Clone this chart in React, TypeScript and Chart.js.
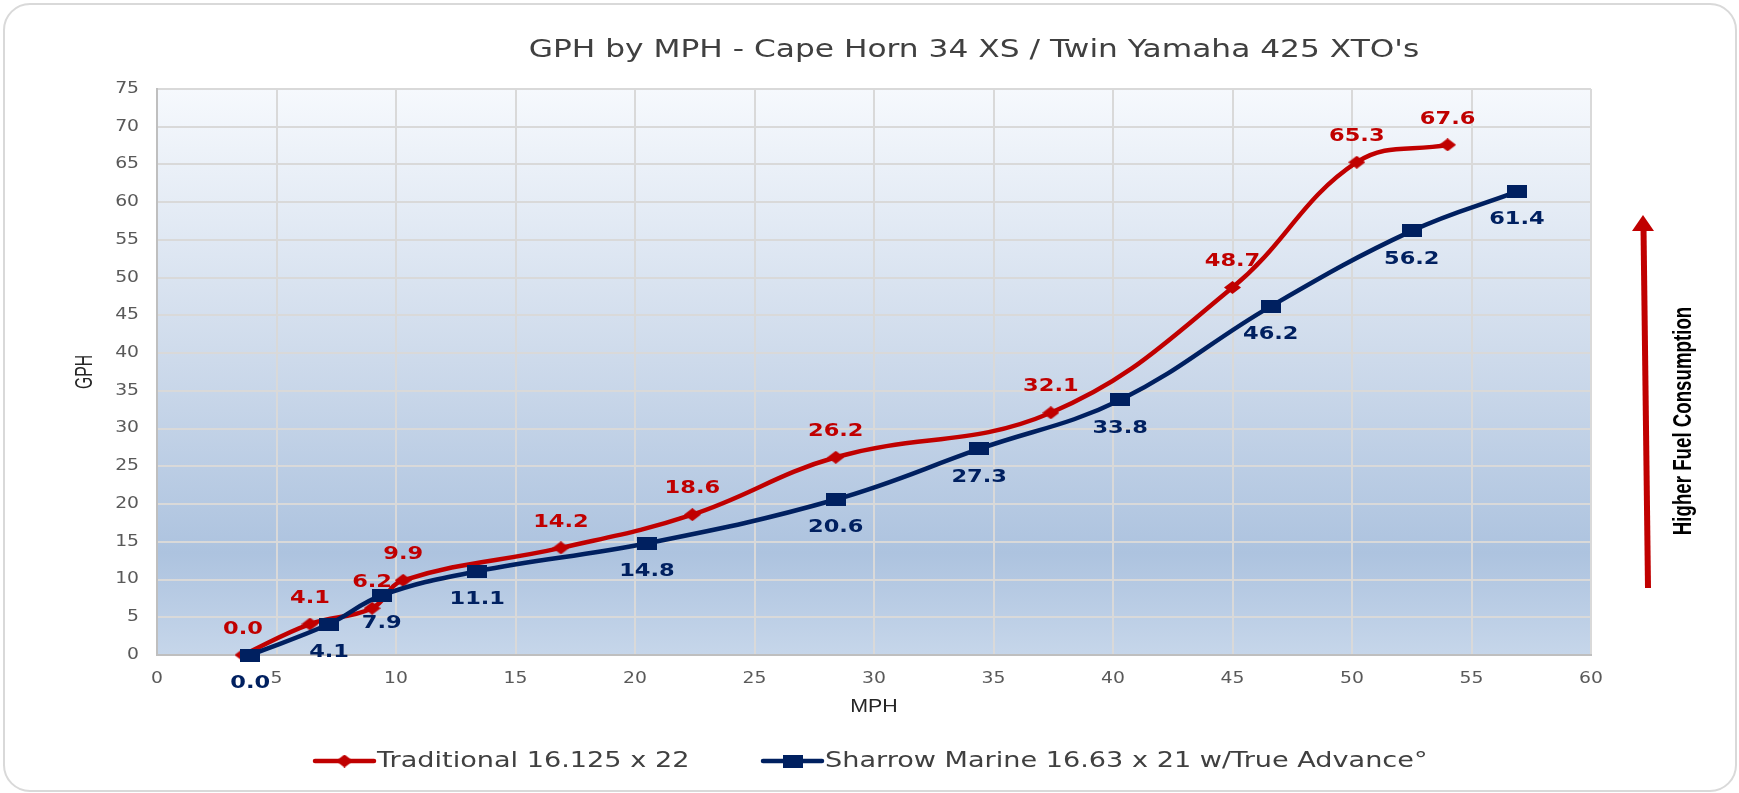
import React, { useEffect, useRef } from "react";
import { Chart, registerables } from "chart.js";

Chart.register(...registerables);

// values
const seriesNames = ["Traditional 16.125 x 22", "Sharrow Marine 16.63 x 21 w/True Advance°"];
const traditionalMph = [3.6, 6.4, 9.0, 10.3, 16.9, 22.4, 28.4, 37.4, 45.0, 50.2, 54.0];
const traditionalGph = [0.0, 4.1, 6.2, 9.9, 14.2, 18.6, 26.2, 32.1, 48.7, 65.3, 67.6];
const sharrowMph = [3.9, 7.2, 9.4, 13.4, 20.5, 28.4, 34.4, 40.3, 46.6, 52.5, 56.9];
const sharrowGph = [0.0, 4.1, 7.9, 11.1, 14.8, 20.6, 27.3, 33.8, 46.2, 56.2, 61.4];
const mphTicks = [0, 5, 10, 15, 20, 25, 30, 35, 40, 45, 50, 55, 60];
const gphTicks = [0, 5, 10, 15, 20, 25, 30, 35, 40, 45, 50, 55, 60, 65, 70, 75];

const W = 1739;
const H = 793;
const RED = "#c00000";
const NAVY = "#002060";
const SX = 1.25; // the original picture is stretched sideways

function makeMarker(w: number, h: number, color: string, diamond: boolean) {
  const c = document.createElement("canvas");
  c.width = w;
  c.height = h;
  const g = c.getContext("2d")!;
  g.fillStyle = color;
  if (diamond) {
    g.beginPath();
    g.moveTo(w / 2, 0);
    g.lineTo(w, h / 2);
    g.lineTo(w / 2, h);
    g.lineTo(0, h / 2);
    g.closePath();
    g.fill();
  } else {
    g.fillRect(0, 0, w, h);
  }
  return c;
}

// draws text, stretched sideways like the source; cond narrows along the text direction
function text(
  ctx: CanvasRenderingContext2D,
  s: string,
  x: number,
  y: number,
  font: string,
  color: string,
  align: CanvasTextAlign = "center",
  rotate = 0,
  cond = 1
) {
  ctx.save();
  ctx.translate(x, y);
  ctx.scale(SX, 1);
  if (rotate) ctx.rotate(rotate);
  if (cond !== 1) ctx.scale(cond, 1);
  ctx.font = font;
  ctx.fillStyle = color;
  ctx.textAlign = align;
  ctx.textBaseline = "middle";
  ctx.fillText(s, 0, 0);
  ctx.restore();
}

export default function App() {
  const canvasRef = useRef<HTMLCanvasElement>(null);

  useEffect(() => {
    document.body.style.margin = "0";
    if (!canvasRef.current) return;

    const diamond = makeMarker(17, 13, RED, true);
    const square = makeMarker(20, 13, NAVY, false);

    const decorations = {
      id: "decorations",
      beforeDraw(chart: any) {
        const { ctx, chartArea: a } = chart;
        ctx.save();
        ctx.fillStyle = "#ffffff";
        ctx.fillRect(0, 0, W, H);
        // outer rounded frame
        ctx.strokeStyle = "#d9d9d9";
        ctx.lineWidth = 2;
        ctx.beginPath();
        ctx.roundRect(4, 4, W - 7, H - 6, 26);
        ctx.stroke();
        // plot area gradient
        const grad = ctx.createLinearGradient(0, a.top, 0, a.bottom);
        grad.addColorStop(0, "#f6f9fd");
        grad.addColorStop(0.45, "#d0dcec");
        grad.addColorStop(0.82, "#adc3df");
        grad.addColorStop(1, "#c6d6ea");
        ctx.fillStyle = grad;
        ctx.fillRect(a.left, a.top, a.right - a.left, a.bottom - a.top);
        ctx.restore();
      },
      afterDatasetsDraw(chart: any) {
        const { ctx } = chart;
        chart.data.datasets.forEach((ds: any, i: number) => {
          const meta = chart.getDatasetMeta(i);
          const above = ds.label === seriesNames[0];
          meta.data.forEach((pt: any, j: number) => {
            const v = ds.data[j].y.toFixed(1);
            text(ctx, v, pt.x, above ? pt.y - 26 : pt.y + 28, "bold 18px 'DejaVu Sans'", above ? RED : NAVY);
          });
        });
      },
      afterDraw(chart: any) {
        const { ctx, scales } = chart;
        const xs = scales.x;
        const ys = scales.y;
        const tickFont = "15px 'DejaVu Sans'";
        ys.ticks.forEach((t: any) => {
          text(ctx, String(t.value), 139, ys.getPixelForValue(t.value), tickFont, "#595959", "right");
        });
        xs.ticks.forEach((t: any) => {
          text(ctx, String(t.value), xs.getPixelForValue(t.value), 679, tickFont, "#595959");
        });

        // title and axis titles
        text(ctx, "GPH by MPH - Cape Horn 34 XS / Twin Yamaha 425 XTO's", 974, 50, "25px 'DejaVu Sans'", "#404040");
        text(ctx, "GPH", 85, 372, "19px 'Liberation Sans'", "#262626", "center", -Math.PI / 2, 0.83);
        text(ctx, "MPH", 874, 707, "19px 'Liberation Sans'", "#262626", "center", 0, 0.9);

        // legend
        const ly = 761;
        const legendItems = [
          { x0: 315, x1: 374, color: RED, img: diamond, label: seriesNames[0] },
          { x0: 763, x1: 822, color: NAVY, img: square, label: seriesNames[1] },
        ];
        legendItems.forEach((it) => {
          ctx.save();
          ctx.strokeStyle = it.color;
          ctx.lineWidth = 4.5;
          ctx.lineCap = "round";
          ctx.beginPath();
          ctx.moveTo(it.x0, ly);
          ctx.lineTo(it.x1, ly);
          ctx.stroke();
          ctx.drawImage(it.img, (it.x0 + it.x1) / 2 - it.img.width / 2, ly - it.img.height / 2);
          ctx.restore();
          text(ctx, it.label, it.x1 + 3, ly, "21.7px 'DejaVu Sans'", "#404040", "left");
        });

        // arrow on the right
        ctx.save();
        ctx.strokeStyle = RED;
        ctx.fillStyle = RED;
        ctx.lineWidth = 6;
        ctx.beginPath();
        ctx.moveTo(1648, 588);
        ctx.lineTo(1643.5, 228);
        ctx.stroke();
        ctx.beginPath();
        ctx.moveTo(1643, 215);
        ctx.lineTo(1654, 231);
        ctx.lineTo(1632, 231);
        ctx.closePath();
        ctx.fill();
        ctx.restore();
        text(ctx, "Higher Fuel Consumption", 1684, 421, "bold 21px 'Liberation Sans'", "#000000", "center", -Math.PI / 2, 0.89);
      },
    };

    const axisCommon = {
      type: "linear" as const,
      ticks: { display: false },
      grid: { color: "#d9d9d9", lineWidth: 2, drawTicks: false },
      border: { display: true, color: "#bfbfbf", width: 2 },
    };

    const chart = new Chart(canvasRef.current, {
      type: "line",
      data: {
        datasets: [
          {
            label: seriesNames[0],
            data: traditionalMph.map((x, i) => ({ x, y: traditionalGph[i] })),
            borderColor: RED,
            backgroundColor: RED,
            borderWidth: 4.5,
            tension: 0.4,
            pointStyle: diamond,
            pointRadius: 8,
            clip: false,
            order: 1,
          },
          {
            label: seriesNames[1],
            data: sharrowMph.map((x, i) => ({ x, y: sharrowGph[i] })),
            borderColor: NAVY,
            backgroundColor: NAVY,
            borderWidth: 4.5,
            tension: 0.4,
            pointStyle: square,
            pointRadius: 10,
            clip: false,
            order: 0,
          },
        ],
      },
      options: {
        animation: false,
        responsive: false,
        events: [],
        layout: { padding: { left: 157, right: W - 1591, top: 89, bottom: H - 655 } },
        plugins: { legend: { display: false }, tooltip: { enabled: false }, title: { display: false } },
        scales: {
          x: {
            ...axisCommon,
            min: 0,
            max: 60,
            afterBuildTicks: (s: any) => {
              s.ticks = mphTicks.map((value) => ({ value }));
            },
            afterFit: (s: any) => {
              s.height = 0;
            },
          },
          y: {
            ...axisCommon,
            min: 0,
            max: 75,
            afterBuildTicks: (s: any) => {
              s.ticks = gphTicks.map((value) => ({ value }));
            },
            afterFit: (s: any) => {
              s.width = 0;
            },
          },
        },
      },
      plugins: [decorations],
    } as any);

    return () => {
      chart.destroy();
    };
  }, []);

  return (
    <div style={{ width: W, height: H }}>
      <canvas ref={canvasRef} width={W} height={H} style={{ width: W, height: H, display: "block" }} />
    </div>
  );
}
